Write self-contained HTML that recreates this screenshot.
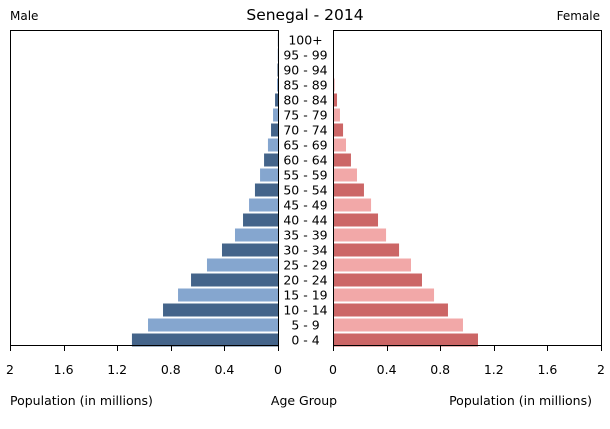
<!DOCTYPE html>
<html><head><meta charset="utf-8"><style>
body{margin:0;background:#fff;font-family:"DejaVu Sans","Liberation Sans",sans-serif;}
svg text{font-family:"DejaVu Sans","Liberation Sans",sans-serif;}
</style></head><body>
<svg id="c" width="610" height="425" xmlns="http://www.w3.org/2000/svg">
<text x="305" y="20" text-anchor="middle" font-size="15.5">Senegal - 2014</text>
<text x="10" y="20" font-size="12">Male</text>
<text x="600" y="20" font-size="12" text-anchor="end">Female</text>
<text x="10" y="405" font-size="12.5">Population (in millions)</text>
<text x="304" y="405" font-size="12.5" text-anchor="middle">Age Group</text>
<text x="592" y="405" font-size="12.5" text-anchor="end">Population (in millions)</text>
<g id="bars"></g>
<rect x="10.5" y="30.5" width="268" height="315" fill="none" stroke="#000"/>
<rect x="333.5" y="30.5" width="268" height="315" fill="none" stroke="#000"/>
<g id="ticks"></g>
</svg>
<script>
const ageGroups=["0 - 4","5 - 9","10 - 14","15 - 19","20 - 24","25 - 29","30 - 34","35 - 39","40 - 44","45 - 49","50 - 54","55 - 59","60 - 64","65 - 69","70 - 74","75 - 79","80 - 84","85 - 89","90 - 94","95 - 99","100+"];
const maleValues=[1.09,0.97,0.858,0.746,0.649,0.53,0.418,0.321,0.261,0.216,0.172,0.134,0.104,0.075,0.052,0.037,0.022,0.007,0.004,0.002,0.001];
const femaleValues=[1.082,0.97,0.858,0.754,0.664,0.582,0.493,0.396,0.336,0.284,0.231,0.179,0.134,0.097,0.075,0.052,0.03,0.012,0.005,0.002,0.001];
const tickValues=[0,0.4,0.8,1.2,1.6,2];
const tickLabels=["0","0.4","0.8","1.2","1.6","2"];
const NS="http://www.w3.org/2000/svg";
const W=268,maxV=2,L0=278,R0=333,yBottom=345,pitch=15,bh=13;
const sx=v=>v/maxV*W;
const yc=i=>yBottom-5-i*pitch;
const bars=document.getElementById('bars'),ticks=document.getElementById('ticks');
function mk(t,a,p){const e=document.createElementNS(NS,t);for(const k in a)e.setAttribute(k,a[k]);p.appendChild(e);return e;}
ageGroups.forEach((g,i)=>{
  const dark=i%2===0;
  const m=mk('rect',{x:L0-sx(maleValues[i]),y:yc(i)-bh/2,width:sx(maleValues[i]),height:bh,fill:dark?'#44648a':'#85a6cf'},bars);
  
  
  const f=mk('rect',{x:R0,y:yc(i)-bh/2,width:sx(femaleValues[i]),height:bh,fill:dark?'#cc6666':'#f2a8a8'},bars);
  
  
  const t=mk('text',{x:305.5,y:yc(i)+4.5,'text-anchor':'middle','font-size':12.5},bars);
  t.textContent=g;
  
  
});
tickValues.forEach((v,i)=>{
  [L0-sx(v),R0+sx(v)].forEach(x=>{
    const l=mk('line',{x1:Math.round(x)+0.5,x2:Math.round(x)+0.5,y1:345,y2:351,stroke:'#000'},ticks);
    
    
    const t=mk('text',{x:x,y:374,'text-anchor':'middle','font-size':12.5},ticks);
    t.textContent=tickLabels[i];
    
    
  });
});
</script>
</body></html>
